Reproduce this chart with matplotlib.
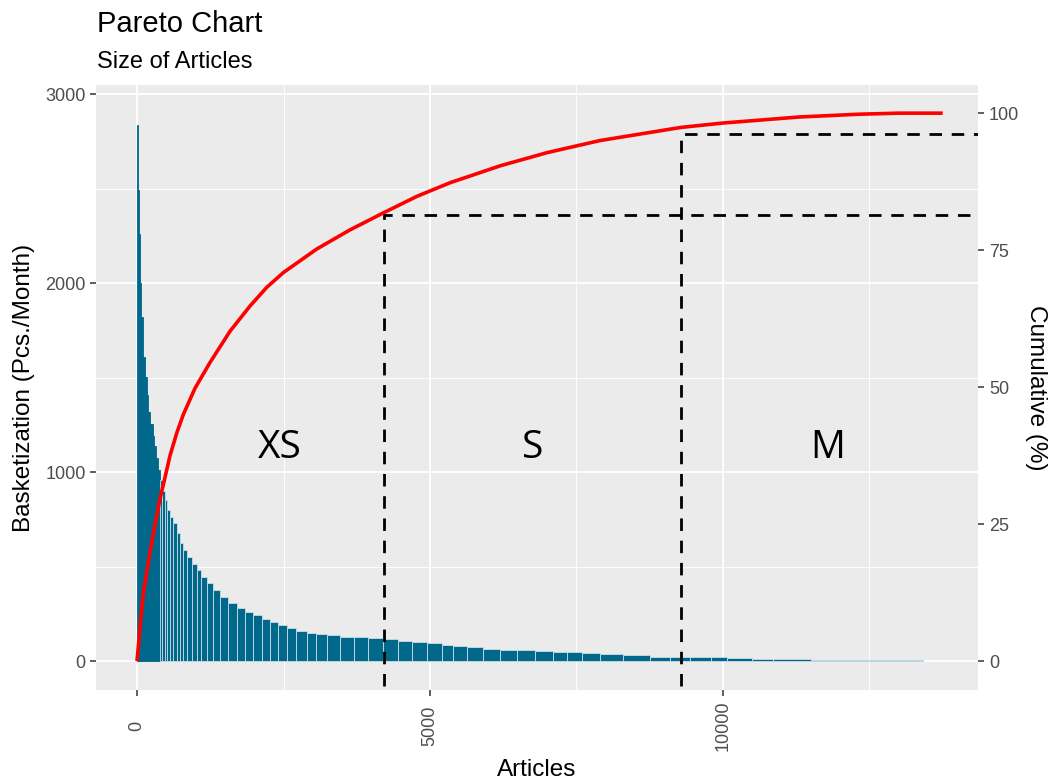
import matplotlib.pyplot as plt
import numpy as np

plt.rcParams['font.family'] = ['Liberation Sans', 'DejaVu Sans']

# Bars: left edge (article rank) and basketization
art_start = [0, 15, 35, 55, 70, 95, 130, 165, 195, 230,
             265, 295, 325, 355, 390, 430, 470, 520, 570, 620,
             680, 734, 790, 848, 930, 1018, 1100, 1189, 1300, 1416,
             1550, 1701, 1850, 1985, 2130, 2270, 2410, 2554, 2720, 2895,
             3050, 3237, 3464, 3700, 3950, 4203, 4450, 4700, 4943, 5200,
             5400, 5626, 5900, 6200, 6479, 6800, 7100, 7332, 7600, 7901,
             8300, 8754, 9100, 9437, 9800, 10070, 10500, 10850, 11500, 12080,
             12800]
basket = [2838, 2490, 2260, 2000, 1820, 1610, 1505, 1410, 1317, 1254,
          1190, 1138, 1074, 1010, 960, 900, 852, 800, 760, 728,
          680, 624, 590, 552, 515, 481, 445, 411, 375, 340,
          305, 279, 260, 243, 225, 208, 190, 173, 160, 150,
          142, 138, 129, 125, 120, 115, 105, 99, 94, 86,
          78, 72, 66, 61, 58, 53, 50, 48, 42, 37,
          30, 24, 22, 24, 20, 16, 13, 10, 8, 6,
          4]
last_article = 13413

# Cumulative share (%)
cum_article = [0, 50, 108, 200, 278, 392, 449, 563, 677, 790, 990, 1246, 1587,
               1928, 2213, 2497, 3066, 3635, 4204, 4773, 5341, 6200, 7000,
               7900, 9283, 10000, 11300, 12300, 13000, 13750]
cum_pct = [0, 6.0, 12.4, 18.5, 23.3, 29.6, 32.2, 37.5, 41.6, 45.0, 49.8, 54.5, 60.2,
           64.8, 68.2, 70.9, 75.2, 78.7, 81.8, 84.8, 87.3, 90.4, 92.8,
           95.0, 97.4, 98.2, 99.3, 99.8, 100, 100]

# Class boundaries: (article, cumulative %)
cuts = [(4220, 81.5), (9283, 96.2)]
classes = ['XS', 'S', 'M']
class_x = [2440, 6758, 11792]
class_y = 1130

K = 28.99  # left units per percent
ylo, yhi = -153, 3048
xlo, xhi = -700, 14352

fig = plt.figure(figsize=(10.52, 7.84), dpi=100)
ax = fig.add_axes([96/1052, 1-690/784, 882/1052, 605/784])
ax.set_facecolor('#EBEBEB')

widths = np.diff(art_start + [last_article])
# thin light seams between the wider bars, like the rendered original
edges = ['#C9DDE5' if w >= 40 else '#00688B' for w in widths]
ax.bar(art_start, basket, width=widths, align='edge', color='#00688B',
       edgecolor=edges, linewidth=0.6)

ax.set_xlim(xlo, xhi)
ax.set_ylim(ylo, yhi)
ax.set_xticks([0, 5000, 10000])
ax.set_xticks([2500, 7500, 12500], minor=True)
ax.set_yticks([0, 1000, 2000, 3000])
ax.set_yticks([500, 1500, 2500], minor=True)
ax.grid(True, which='major', color='white', linewidth=1.3)
ax.grid(True, which='minor', color='white', linewidth=0.65)
ax.set_axisbelow(True)
for s in ax.spines.values():
    s.set_visible(False)
ax.tick_params(which='major', length=4, width=1.1, color='#333333',
               labelsize=13, labelcolor='#4D4D4D')
ax.tick_params(which='minor', length=0)
ax.tick_params(axis='y', pad=3.5)
ax.tick_params(axis='x', pad=22, labelrotation=90)
for lab in ax.get_xticklabels():
    lab.set_va('center')

for name, cx in zip(classes, class_x):
    ax.text(cx, class_y, name, fontsize=28, family='Open Sans',
            ha='center', va='center', color='black')

ax2 = ax.twinx()
ax2.set_ylim(ylo / K, yhi / K)
ax2.plot(cum_article, cum_pct, color='red', linewidth=2.6,
         solid_joinstyle='round', solid_capstyle='butt')
for cx, cy in cuts:
    ax2.plot([cx, cx, xhi], [-4.5, cy, cy], color='black', linewidth=2,
             dashes=(4.5, 3.5))
ax2.set_xlim(xlo, xhi)
ax2.set_yticks([0, 25, 50, 75, 100])
for s in ax2.spines.values():
    s.set_visible(False)
ax2.tick_params(length=4, width=1.1, color='#333333', labelsize=13,
                labelcolor='#4D4D4D', pad=4)

ax.set_xlabel('Articles', fontsize=17.5, va='center')
ax.xaxis.set_label_coords(0.5, (690-770)/605)
ax.set_ylabel('Basketization (Pcs./Month)', fontsize=17.5, va='center')
ax.yaxis.set_label_coords((24-96)/882, 0.5)
ax2.set_ylabel('Cumulative (%)', fontsize=17.5, rotation=270, va='center')
ax2.yaxis.set_label_coords((1036-96)/882, 0.5)

fig.text(97/1052, 1-31.5/784, 'Pareto Chart', fontsize=21, va='baseline')
fig.text(97/1052, 1-67.5/784, 'Size of Articles', fontsize=17, va='baseline')

fig.savefig('out.png', dpi=100)
